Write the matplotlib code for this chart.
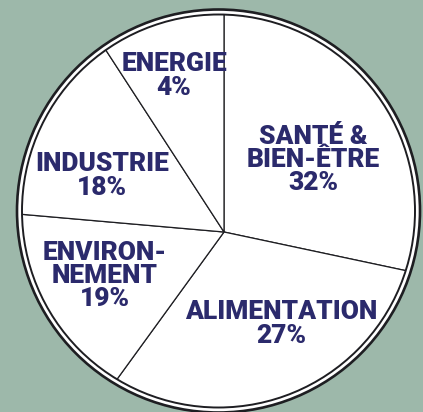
import matplotlib.pyplot as plt
from matplotlib.patches import Circle

# sectors, clockwise from the top
labels = ["SANTÉ &\nBIEN-ÊTRE", "ALIMENTATION", "ENVIRON-\nNEMENT", "INDUSTRIE", "ENERGIE"]
shares = [32, 27, 19, 18, 4]
# angular size of each slice as drawn in the original (degrees, not proportional)
drawn_deg = [102, 114, 59, 52, 33]

# where each label block sits (pixel coords, y from top)
label_xy = [(313, 160), (281, 324), (105, 276), (102, 176), (174, 76)]

BG = "#9db8aa"
INK = "#2b2a6c"
W, H = 423, 412

fig = plt.figure(figsize=(W / 100, H / 100), dpi=100, facecolor=BG)
ax = fig.add_axes([0, 0, 1, 1])

disc_c = (218.5, H - 211)
vertex = (224, H - 232)

outer = Circle(disc_c, 201.5, facecolor="white", edgecolor="#1e1e22", lw=1.9, zorder=1)
ax.add_patch(outer)

inner = Circle(disc_c, 196.5, facecolor="none", edgecolor="#1e1e22", lw=1.4, zorder=3)
ax.add_patch(inner)

wedges, _ = ax.pie(drawn_deg, startangle=90, counterclock=False, center=vertex,
                   radius=260, colors=["white"] * len(drawn_deg),
                   wedgeprops=dict(edgecolor="#1e1e22", lw=0.9))
for w in wedges:
    w.set_zorder(2)
    w.set_clip_on(True)  # pie turns clipping off
    w.set_clip_path(inner)

for lab, pct, (x, y) in zip(labels, shares, label_xy):
    ax.text(x, H - y, f"{lab}\n{pct}%", ha="center", va="center", color=INK,
            fontsize=19, fontweight="heavy", family=["Roboto", "DejaVu Sans"],
            linespacing=0.95, zorder=4)

ax.set_xlim(0, W)
ax.set_ylim(0, H)
ax.set_aspect("equal")
ax.set_axis_off()

fig.savefig("out.png", dpi=100, facecolor=BG)
